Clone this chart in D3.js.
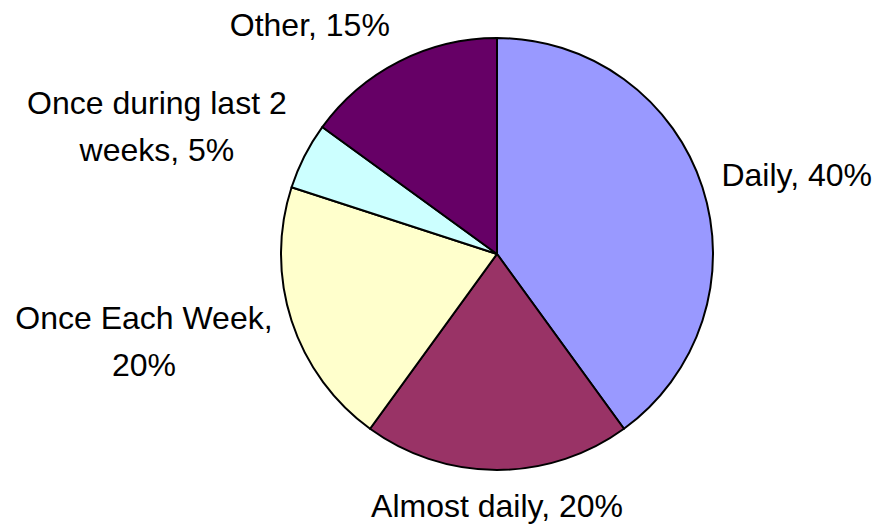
<!DOCTYPE html>
<html>
<head>
<meta charset="utf-8">
<script src="https://cdn.jsdelivr.net/npm/d3@7"></script>
<style>
  body { margin: 0; background: #fff; }
  text { font-family: "Liberation Sans", Arial, sans-serif; }
</style>
</head>
<body>
<div class="canvas"></div>
<script>
// data
const categories = ['Daily', 'Almost daily', 'Once Each Week', 'Once during last 2 weeks', 'Other'];
const shares = [40, 20, 20, 5, 15];
const colors = ['#9999FF', '#993366', '#FFFFCC', '#CCFFFF', '#660066'];

const width = 873;
const height = 525;
const cx = 497, cy = 254;
const radius = 216;
const fontSize = 32;
const lineGap = 47;
const wrapWidth = 285;

const svg = d3.select('.canvas')
    .append('svg')
    .attr('width', width)
    .attr('height', height);

const graph = svg.append('g')
    .attr('transform', `translate(${cx}, ${cy})`);

const data = categories.map((c, i) => ({ name: c, value: shares[i], color: colors[i] }));

const pie = d3.pie()
    .sort(null)
    .value(d => d.value);

const arc = d3.arc()
    .innerRadius(0)
    .outerRadius(radius);

const arcs = pie(data);

graph.selectAll('path')
    .data(arcs)
    .enter()
    .append('path')
    .attr('d', arc)
    .attr('fill', d => d.data.color)
    .attr('stroke', '#000')
    .attr('stroke-width', 2)
    .attr('stroke-linejoin', 'round');

// labels outside the pie, wrapped like excel does
const labelRx = 236;
const labelRy = 246;

arcs.forEach(d => {
    const mid = (d.startAngle + d.endAngle) / 2;
    const dx = Math.sin(mid);
    const dy = -Math.cos(mid);
    const px = dx * labelRx;
    const py = dy * labelRy;

    const label = graph.append('text')
        .attr('font-size', fontSize + 'px')
        .attr('fill', '#000')
        .attr('text-anchor', 'middle');

    // greedy wrap
    const words = `${d.data.name}, ${d.data.value}%`.split(' ');
    let lines = [];
    let line = [];
    const probe = label.append('tspan');
    words.forEach(w => {
        line.push(w);
        probe.text(line.join(' '));
        if (probe.node().getComputedTextLength() > wrapWidth && line.length > 1) {
            line.pop();
            lines.push(line.join(' '));
            line = [w];
        }
    });
    lines.push(line.join(' '));
    probe.remove();

    let maxW = 0;
    lines.forEach(l => {
        const t = label.append('tspan').text(l);
        maxW = Math.max(maxW, t.node().getComputedTextLength());
    });

    const boxH = (lines.length - 1) * lineGap + fontSize * 0.72;
    const fx = Math.sign(dx) * Math.min(1, Math.abs(dx) * 3);
    const bx = px + fx * maxW / 2;
    const by = py + dy * boxH / 2;
    let top = by - boxH / 2 + fontSize * 0.72;
    // keep descenders inside the window
    const maxBase = height - cy - fontSize * 0.25;
    top = Math.min(top, maxBase - (lines.length - 1) * lineGap);

    label.selectAll('tspan')
        .attr('x', bx)
        .attr('y', (l, i) => top + i * lineGap);
});
</script>
</body>
</html>
